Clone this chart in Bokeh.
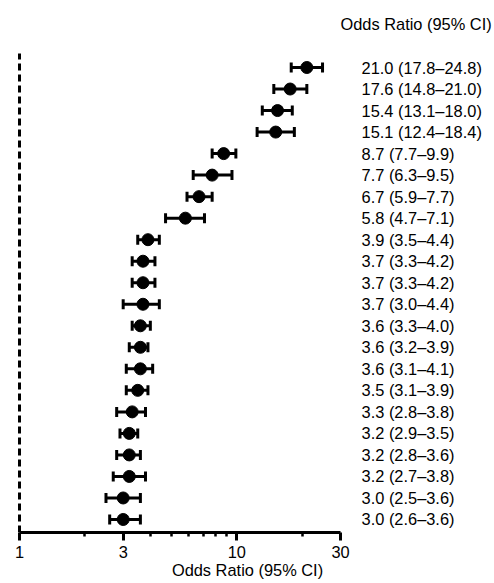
import math
from bokeh.plotting import figure
from bokeh.models import Range1d, FixedTicker, ColumnDataSource, BasicTickFormatter
from bokeh.embed import file_html
from bokeh.resources import INLINE
from bokeh.core.properties import value

# ---- data (top row first) ----
odds = [21.0, 17.6, 15.4, 15.1, 8.7, 7.7, 6.7, 5.8, 3.9, 3.7, 3.7, 3.7,
        3.6, 3.6, 3.6, 3.5, 3.3, 3.2, 3.2, 3.2, 3.0, 3.0]
lower = [17.8, 14.8, 13.1, 12.4, 7.7, 6.3, 5.9, 4.7, 3.5, 3.3, 3.3, 3.0,
         3.3, 3.2, 3.1, 3.1, 2.8, 2.9, 2.8, 2.7, 2.5, 2.6]
upper = [24.8, 21.0, 18.0, 18.4, 9.9, 9.5, 7.7, 7.1, 4.4, 4.2, 4.2, 4.4,
         4.0, 3.9, 4.1, 3.9, 3.8, 3.5, 3.6, 3.8, 3.6, 3.6]
tick_values = [1, 3, 10, 30]
tick_labels = ["1", "3", "10", "30"]
minor_ticks = [2, 4, 5, 6, 7, 8, 9, 20]
header_text = "Odds Ratio (95% CI)"
x_title = "Odds Ratio (95% CI)"
null_value = 1

n = len(odds)
rows = [n - 1 - i for i in range(n)]
labels = [f"{o:.1f} ({l:.1f}\u2013{u:.1f})" for o, l, u in zip(odds, lower, upper)]

src = ColumnDataSource(dict(y=rows, odds=odds, lower=lower, upper=upper, label=labels))

FONT = "Liberation Sans"
FS = "16.4px"

y_bottom = -0.604
p = figure(width=494, height=583, x_axis_type="log",
           x_range=Range1d(0.8176, 153.4), y_range=Range1d(y_bottom, 24.113),
           output_backend="svg", toolbar_location=None, y_axis_location=None,
           min_border_left=0, min_border_right=0, min_border_top=0, min_border_bottom=51)
p.outline_line_color = None
p.xgrid.visible = False
p.ygrid.visible = False
p.background_fill_color = "white"
p.border_fill_color = "white"

# null line
p.segment(x0=[null_value], y0=[y_bottom], x1=[null_value], y1=[n - 1 + 0.65],
          line_color="black", line_width=3, line_dash="7 4")

# CI bars
p.segment(x0="lower", y0="y", x1="upper", y1="y", source=src, line_color="black", line_width=3)
p.scatter(x="lower", y="y", source=src, marker="dash", angle=math.pi / 2, size=10,
          line_color="black", line_width=3)
p.scatter(x="upper", y="y", source=src, marker="dash", angle=math.pi / 2, size=10,
          line_color="black", line_width=3)
# point estimates
p.scatter(x="odds", y="y", source=src, marker="circle", size=12,
          fill_color="black", line_color="black")

# row labels
p.text(x=37.5, y="y", text="label", source=src, text_font=value(FONT), text_font_size=FS,
       text_baseline="middle", text_align="left", text_color="black")
# header
p.text(x=[tick_values[-1]], y=[n + 1], text=[header_text], text_font=value(FONT),
       text_font_size=FS, text_baseline="middle", text_align="left", text_color="black")

# axis
ax = p.xaxis[0]
ax.ticker = FixedTicker(ticks=tick_values, minor_ticks=minor_ticks)
ax.formatter = BasicTickFormatter()
ax.major_label_overrides = {v: s for v, s in zip(tick_values, tick_labels)}
ax.bounds = (tick_values[0], tick_values[-1])
ax.axis_line_width = 3
ax.axis_line_color = "black"
ax.major_tick_line_width = 3
ax.major_tick_line_color = "black"
ax.minor_tick_line_width = 2.5
ax.minor_tick_line_color = "black"
ax.major_tick_out = 8
ax.major_tick_in = 0
ax.minor_tick_out = 4
ax.minor_tick_in = 0
ax.major_label_standoff = 5
ax.major_label_text_font = FONT
ax.major_label_text_font_size = FS
ax.major_label_text_color = "black"
ax.axis_label = x_title
ax.axis_label_standoff = 0
ax.axis_label_text_font = FONT
ax.axis_label_text_font_size = FS
ax.axis_label_text_font_style = "normal"
ax.axis_label_text_color = "black"

open("out.html", "w").write(file_html(p, INLINE))
